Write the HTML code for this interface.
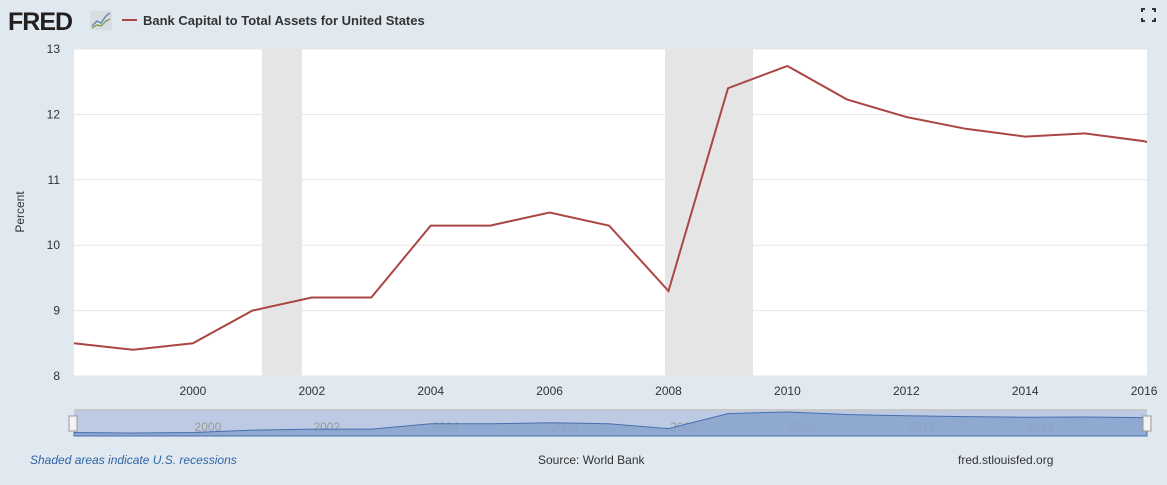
<!DOCTYPE html>
<html><head><meta charset="utf-8"><style>
html,body{margin:0;padding:0;background:#e1e9f0;width:1167px;height:485px;overflow:hidden;font-family:"Liberation Sans",sans-serif}
</style></head><body>
<svg id="s" width="1167" height="485" xmlns="http://www.w3.org/2000/svg" font-family="Liberation Sans, sans-serif">
<rect width="1167" height="485" fill="#e1e9f0"/>
<text x="8" y="30" font-size="25" font-weight="bold" fill="#231f20" letter-spacing="-1">FRED</text>
<rect x="90" y="11" width="22" height="19" rx="2" fill="#d8dde2"/>
<polyline points="92,26 97,21 101,23 106,16 110,13" fill="none" stroke="#5a7fb0" stroke-width="1.3"/>
<polyline points="92,28 97,25 101,26 106,21 110,19" fill="none" stroke="#7aa040" stroke-width="1.3"/>
<line x1="122" y1="20" x2="137" y2="20" stroke="#aa4643" stroke-width="2"/>
<text x="143" y="25" font-size="13" font-weight="bold" fill="#333">Bank Capital to Total Assets for United States</text>
<g stroke="#333" stroke-width="2" fill="none"><path d="M1142 12v-3h3M1152 9h3v3M1142 18v3h3M1152 21h3v-3"/></g>
<rect x="74" y="49" width="1073" height="327" fill="#fff"/>
<rect x="262" y="49" width="40" height="327" fill="#e5e5e5"/>
<rect x="665" y="49" width="88" height="327" fill="#e5e5e5"/>
<g stroke="#e6e6e6" stroke-width="1" id="grid"></g>
<g font-size="12" fill="#333" id="yl" text-anchor="end"></g>
<text transform="translate(24,212) rotate(-90)" font-size="12" fill="#333" text-anchor="middle">Percent</text>
<g font-size="12" fill="#333" id="xl" text-anchor="middle"></g>
<polyline id="line" fill="none" stroke="#aa4643" stroke-width="2"/>
<rect x="74" y="410" width="1073" height="26" fill="#bccbe3"/>
<line x1="74" y1="410" x2="1147" y2="410" stroke="#c8c8c8" stroke-width="2"/>
<g font-size="12" fill="#999" id="nl" text-anchor="middle"></g>
<path id="nav" fill="#87a3cc" fill-opacity="0.85" stroke="#4a6fae" stroke-width="1"/>
<rect x="69" y="416" width="8" height="15" fill="#f2f2f2" stroke="#999"/>
<rect x="1143" y="416" width="8" height="15" fill="#f2f2f2" stroke="#999"/>
<text x="30" y="464" font-size="12" font-style="italic" fill="#3063a5">Shaded areas indicate U.S. recessions</text>
<text x="538" y="464" font-size="12" fill="#333">Source: World Bank</text>
<text x="958" y="464" font-size="12" fill="#333">fred.stlouisfed.org</text>
</svg>
<script>
var v=[8.5,8.4,8.5,9.0,9.2,9.2,10.3,10.3,10.5,10.3,9.3,12.4,12.74,12.23,11.96,11.78,11.66,11.71,11.59];
function X(i){return 74+i*59.45}
var ns="http://www.w3.org/2000/svg";
function el(p,t,a,txt){var e=document.createElementNS(ns,t);for(var k in a)e.setAttribute(k,a[k]);if(txt)e.textContent=txt;document.getElementById(p).appendChild(e);}
for(var g=8;g<=13;g++){var y=376-(g-8)*65.4;el('grid','line',{x1:74,x2:1147,y1:y,y2:y});el('yl','text',{x:60,y:y+4},String(g));}
for(var yr=2000;yr<=2016;yr+=2){var x=X(yr-1998);el('xl','text',{x:x,y:395},String(yr));if(yr<2016)el('nl','text',{x:x+15,y:431},String(yr));}
var pts=v.map(function(d,i){return X(i).toFixed(1)+','+(376-(d-8)*65.4).toFixed(1)});
pts.push('1147,142');
document.getElementById('line').setAttribute('points',pts.join(' '));
var np=v.map(function(d,i){return (i?'L':'M')+X(i).toFixed(1)+','+(433-(d-8.4)/4.34*21).toFixed(1)}).join(' ')+' L1147,424.6 L1147,436 L74,436 Z';
document.getElementById('nav').setAttribute('d',np);
</script>
</body></html>
